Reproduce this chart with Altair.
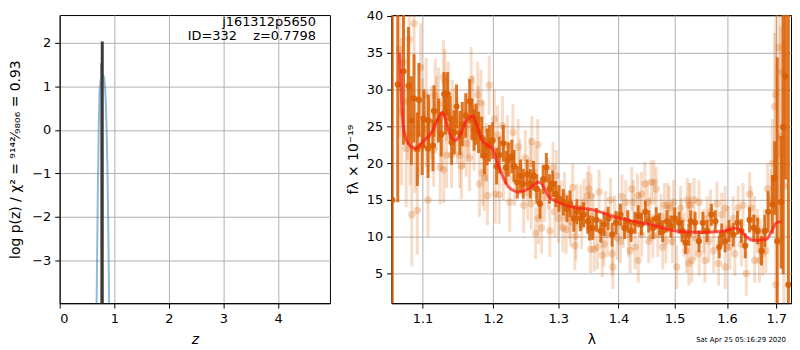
import altair as alt
import pandas as pd

# ---------------- data ----------------
# left panel: p(z) curve (blue) and the chi2 spikes (dark)
PZ_Z = [0.672, 0.685, 0.700, 0.715, 0.730, 0.750, 0.770, 0.795, 0.815, 0.830, 0.845, 0.860, 0.875, 0.890, 0.905, 0.915]
PZ_LOGP = [-4.5, -3.0, -1.3, 0.0, 0.9, 1.15, 1.23, 1.26, 1.2, 1.0, 0.65, 0.0, -0.85, -2.2, -3.9, -4.8]
SPIKE_Z = [0.752, 0.780]
SPIKE_TOP = [1.53, 2.03]
SPIKE_COLOR = ["#8c8c8c", "#3a3a3a"]
SPIKE_WIDTH = [1.2, 3.0]
INFO_TEXT = ["j161312p5650", "ID=332\u00a0\u00a0\u00a0\u00a0z=0.7798"]
DATE_TEXT = ["Sat Apr 25 05:16:29 2020"]

# right panel: combined spectrum points (lambda, flux, err)
DARK_POINTS = [
    (1.0597, 15.0, 30), (1.0669, 30.7, 16), (1.0745, 32.5, 10), (1.0811, 30.5, 8),
    (1.0850, 25.8, 6), (1.0885, 28.8, 6), (1.0929, 21.9, 5), (1.0951, 28.6, 5),
    (1.0995, 22.4, 4), (1.1017, 26.0, 4), (1.1074, 22.0, 4), (1.1080, 25.8, 3.5),
    (1.1141, 22.4, 3.5), (1.1156, 27.1, 3.5), (1.1218, 25.8, 3), (1.1255, 23.9, 3),
    (1.1295, 29.4, 3), (1.1315, 26.9, 3), (1.1344, 29.4, 3), (1.1380, 26.1, 3),
    (1.1400, 22.8, 3), (1.1437, 24.2, 3), (1.1470, 27.7, 3), (1.1517, 24.1, 3),
    (1.1550, 25.3, 3), (1.1600, 26.5, 3), (1.1657, 28.4, 3), (1.1690, 26.0, 2.8),
    (1.1720, 24.5, 2.8), (1.1750, 25.3, 2.8), (1.1785, 24.2, 2.8), (1.1830, 23.5, 2.8),
    (1.1870, 21.0, 2.5), (1.1910, 22.2, 2.5), (1.1944, 22.7, 2.5), (1.1990, 23.1, 2.5),
    (1.2049, 19.6, 2.5), (1.2090, 21.1, 2.5), (1.2150, 22.7, 2.5), (1.2190, 19.4, 2.3),
    (1.2225, 20.5, 2.3), (1.2276, 20.9, 2.3), (1.2310, 19.6, 2.2), (1.2360, 17.4, 2.2),
    (1.2410, 18.3, 2.2), (1.2450, 17.2, 2.0), (1.2510, 18.5, 2.0), (1.2560, 17.2, 2.0),
    (1.2610, 18.3, 2.0), (1.2660, 16.5, 2.0), (1.2710, 14.5, 2.0), (1.2760, 17.8, 2.0),
    (1.2810, 19.4, 2.0), (1.2860, 16.5, 2.0), (1.2910, 17.2, 1.8), (1.2960, 15.8, 1.8),
    (1.3010, 15.2, 1.8), (1.3080, 14.7, 1.8), (1.3140, 13.8, 1.8), (1.3190, 14.5, 1.8),
    (1.3250, 12.5, 1.8), (1.3300, 13.4, 1.7), (1.3360, 12.5, 1.7), (1.3410, 13.0, 1.7),
    (1.3480, 12.1, 1.7), (1.3510, 11.2, 1.7),
    (1.3560, 11.2, 1.6), (1.3625, 12.3, 1.6), (1.3697, 10.8, 1.6), (1.3752, 11.7, 1.6),
    (1.3823, 12.5, 1.6), (1.3890, 10.3, 1.6), (1.3957, 11.9, 1.6), (1.4031, 13.0, 1.5),
    (1.4104, 11.2, 1.5), (1.4159, 12.1, 1.5), (1.4218, 10.8, 1.5), (1.4286, 11.9, 1.5),
    (1.4343, 12.8, 1.5), (1.4401, 11.7, 1.5), (1.4470, 13.4, 1.5), (1.4530, 12.1, 1.5),
    (1.4605, 11.2, 1.5), (1.4664, 12.5, 1.5), (1.4724, 11.7, 1.5), (1.4782, 10.8, 1.5),
    (1.4859, 12.1, 1.5), (1.4930, 11.4, 1.5), (1.5003, 12.5, 1.5), (1.5083, 11.9, 1.5),
    (1.5142, 10.8, 1.5), (1.5203, 9.2, 1.5), (1.5265, 10.3, 1.5),
    (1.5302, 12.1, 1.5), (1.5382, 11.9, 1.5), (1.5456, 9.4, 1.5), (1.5530, 11.9, 1.5),
    (1.5611, 10.8, 1.5), (1.5694, 13.0, 1.5), (1.5770, 12.1, 1.5), (1.5847, 8.6, 1.5),
    (1.5896, 10.3, 1.5), (1.5961, 9.4, 1.5), (1.6038, 10.8, 1.5), (1.6122, 10.3, 1.6),
    (1.6206, 11.9, 1.6), (1.6284, 10.8, 1.6), (1.6362, 8.8, 1.7), (1.6449, 12.3, 1.7),
    (1.6535, 11.2, 1.8), (1.6614, 10.8, 1.8), (1.6694, 8.1, 2.0), (1.6761, 10.8, 2.2),
    (1.6830, 13.4, 2.8), (1.6918, 14.4, 4), (1.6965, 18.0, 5), (1.7019, 9.4, 25),
    (1.7100, 14.7, 9), (1.7143, 24.9, 20), (1.7192, 31.8, 14), (1.7254, 3.5, 40),
]

# right panel: individual exposure points (lambda, flux, err)
LIGHT_POINTS = [
    (1.0690, 35.5, 12), (1.0720, 27.0, 10), (1.0742, 33.7, 10), (1.0780, 22.0, 8),
    (1.0798, 28.4, 8), (1.0820, 36.8, 8), (1.0830, 24.0, 7), (1.0855, 13.0, 7),
    (1.0885, 39.0, 7), (1.0900, 22.0, 6), (1.0929, 13.6, 6), (1.0950, 24.0, 6),
    (1.0973, 33.0, 6), (1.1000, 26.5, 5), (1.1048, 29.3, 5), (1.1050, 24.5, 5),
    (1.1074, 15.0, 5), (1.1084, 23.8, 5), (1.1120, 25.5, 5), (1.1151, 21.8, 5),
    (1.1174, 29.2, 5), (1.1190, 26.8, 5), (1.1218, 28.0, 5), (1.1241, 19.4, 5),
    (1.1260, 24.0, 5), (1.1286, 31.7, 5), (1.1290, 19.1, 4.5), (1.1309, 31.0, 4.5),
    (1.1330, 27.5, 4.5), (1.1331, 21.1, 4.5), (1.1354, 29.3, 4.5), (1.1399, 21.1, 4.5),
    (1.1410, 26.8, 4.5), (1.1446, 25.8, 4.5), (1.1480, 24.5, 4.5), (1.1515, 21.1, 4.5),
    (1.1538, 19.6, 4.5), (1.1570, 23.8, 4.5), (1.1607, 22.7, 4.5), (1.1630, 25.2, 4.5),
    (1.1655, 20.7, 4.5), (1.1678, 31.3, 4.5), (1.1702, 27.5, 4.5), (1.1720, 23.5, 4.5),
    (1.1773, 29.3, 4.5), (1.1780, 26.0, 4.5), (1.1797, 17.2, 4.5), (1.1820, 28.2, 4.5),
    (1.1844, 18.7, 4.5), (1.1850, 24.5, 4), (1.1869, 18.0, 4.5), (1.1900, 21.5, 4),
    (1.1915, 15.6, 4), (1.1939, 30.6, 4),
    (1.2016, 26.0, 4), (1.2030, 15.8, 4), (1.2063, 23.8, 4), (1.2088, 15.7, 4),
    (1.2136, 25.1, 4), (1.2150, 19.0, 4), (1.2210, 22.5, 4), (1.2245, 14.7, 4),
    (1.2294, 24.2, 3.8), (1.2320, 18.0, 3.8), (1.2373, 22.2, 3.8), (1.2400, 19.5, 3.8),
    (1.2458, 14.3, 3.8), (1.2483, 20.7, 3.8), (1.2520, 16.0, 3.8), (1.2559, 20.0, 3.5),
    (1.2574, 14.5, 3.5), (1.2583, 22.9, 3.5), (1.2635, 18.7, 3.5), (1.2640, 10.5, 3.5),
    (1.2674, 22.5, 3.5), (1.2685, 12.5, 3.5), (1.2736, 11.2, 3.5), (1.2780, 15.5, 3.5),
    (1.2839, 17.2, 3.5), (1.2865, 10.8, 3.5), (1.2916, 19.4, 3.5), (1.2943, 13.4, 3.5),
    (1.2968, 18.3, 3.5), (1.3000, 12.5, 3.3), (1.3046, 14.3, 3.3), (1.3073, 11.2, 3.3),
    (1.3100, 15.5, 3.3), (1.3125, 11.0, 3.3), (1.3179, 13.0, 3.3), (1.3200, 12.0, 3.3),
    (1.3232, 16.7, 3.3), (1.3268, 8.8, 3.3), (1.3284, 10.1, 3.3), (1.3300, 13.9, 3.3),
    (1.3364, 13.9, 3.2), (1.3380, 11.5, 3.2), (1.3419, 14.7, 3.2), (1.3473, 15.6, 3.2),
    (1.3500, 16.5, 3.2), (1.3527, 8.3, 3.2),
    (1.3533, 15.6, 3), (1.3570, 12.8, 3), (1.3587, 8.3, 3), (1.3641, 8.6, 3),
    (1.3669, 16.1, 3), (1.3723, 7.5, 3), (1.3752, 9.0, 3), (1.3780, 13.2, 3),
    (1.3806, 10.3, 3), (1.3863, 15.0, 3), (1.3890, 7.7, 3), (1.3902, 5.9, 3),
    (1.3930, 12.6, 3), (1.3974, 9.9, 3), (1.4031, 9.4, 3), (1.4058, 15.5, 3),
    (1.4080, 11.5, 3), (1.4126, 14.7, 3), (1.4172, 10.3, 3), (1.4201, 8.1, 3),
    (1.4228, 16.5, 3), (1.4258, 14.7, 3), (1.4287, 8.6, 3), (1.4332, 15.6, 3),
    (1.4344, 6.8, 3), (1.4370, 13.0, 3), (1.4401, 15.8, 3), (1.4405, 10.3, 3),
    (1.4460, 17.2, 3), (1.4506, 14.7, 3), (1.4530, 9.4, 3), (1.4550, 12.4, 3),
    (1.4576, 17.4, 3), (1.4605, 10.1, 3), (1.4623, 17.4, 3), (1.4664, 16.5, 3),
    (1.4694, 10.3, 3), (1.4750, 12.8, 3), (1.4782, 8.6, 3), (1.4813, 14.3, 3),
    (1.4841, 9.4, 3), (1.4872, 14.3, 3), (1.4902, 13.9, 3), (1.4950, 11.8, 3),
    (1.4962, 9.4, 3), (1.4980, 14.7, 3), (1.5039, 5.9, 3), (1.5112, 13.9, 3),
    (1.5120, 12.2, 3), (1.5174, 10.3, 3), (1.5222, 8.1, 3), (1.5235, 15.0, 3),
    (1.5266, 6.4, 3), (1.5295, 14.3, 3),
    (1.5271, 14.3, 3), (1.5321, 6.8, 3), (1.5364, 15.0, 3), (1.5382, 9.9, 3),
    (1.5457, 14.7, 3), (1.5460, 7.7, 3), (1.5550, 10.8, 3), (1.5569, 6.8, 3),
    (1.5612, 12.5, 3), (1.5644, 9.4, 3), (1.5676, 13.4, 3), (1.5738, 8.1, 3),
    (1.5801, 14.5, 3), (1.5834, 6.4, 3), (1.5897, 13.0, 3), (1.5962, 13.9, 3),
    (1.5965, 5.9, 3), (1.6026, 11.2, 3), (1.6058, 8.6, 3), (1.6122, 12.5, 3),
    (1.6155, 7.7, 3), (1.6220, 13.9, 3), (1.6284, 9.0, 3), (1.6318, 14.3, 3),
    (1.6383, 5.0, 3), (1.6450, 15.8, 3), (1.6482, 13.9, 3), (1.6549, 12.5, 3),
    (1.6552, 6.8, 3), (1.6615, 10.8, 3), (1.6649, 6.8, 3), (1.6670, 9.4, 3),
    (1.6716, 7.7, 3), (1.6750, 10.8, 3), (1.6782, 8.1, 3), (1.6817, 16.5, 3.5),
    (1.6884, 15.2, 4), (1.6918, 20.0, 6), (1.6965, 27.7, 10), (1.6986, 29.3, 12),
    (1.6990, 3.5, 15), (1.7055, 35.7, 15), (1.7088, 23.6, 15), (1.7123, 32.4, 15),
    (1.7159, 16.9, 20),
]

# right panel: best-fit model (red)
MODEL_LAM = [1.0694, 1.0738, 1.0803, 1.0869, 1.0911, 1.0955, 1.1021, 1.1110, 1.1201, 1.1268,
             1.1313, 1.1382, 1.1450, 1.1519, 1.1613, 1.1706, 1.1754, 1.1825, 1.1919, 1.1991,
             1.2041, 1.2136, 1.2235, 1.2383, 1.2533, 1.2685, 1.2735, 1.2839, 1.2995, 1.3152,
             1.3312, 1.3473, 1.4024, 1.4600, 1.5015, 1.5507, 1.5948, 1.6175, 1.6273, 1.6402,
             1.6535, 1.6802, 1.6903, 1.7006, 1.7109]
MODEL_FLUX = [35.0, 25.3, 22.7, 22.1, 22.0, 22.4, 23.1, 24.0, 25.8, 26.9,
              26.0, 23.8, 23.1, 23.8, 25.8, 26.4, 25.3, 23.3, 22.4, 22.0,
              20.5, 18.3, 16.7, 16.1, 16.5, 17.4, 17.2, 15.6, 14.7, 14.2,
              13.9, 13.8, 12.5, 11.6, 10.8, 10.6, 10.8, 11.2, 10.8, 9.9,
              9.5, 9.7, 10.8, 11.9, 12.1]

LAM_TICKS = [1.1, 1.2, 1.3, 1.4, 1.5, 1.6, 1.7]
FLUX_TICKS = [5, 10, 15, 20, 25, 30, 35, 40]
Z_TICKS = [0, 1, 2, 3, 4]
LOGP_TICKS = [-3, -2, -1, 0, 1, 2]

# ---------------- build frames ----------------
FONT = "DejaVu Sans"
ORANGE = "#d95f02"

dark = pd.DataFrame(DARK_POINTS, columns=["lam", "flux", "err"])
dark["lo"] = dark["flux"] - dark["err"]
dark["hi"] = dark["flux"] + dark["err"]
light = pd.DataFrame(LIGHT_POINTS, columns=["lam", "flux", "err"])
light["lo"] = light["flux"] - light["err"]
light["hi"] = light["flux"] + light["err"]
model = pd.DataFrame({"lam": MODEL_LAM, "flux": MODEL_FLUX})
pz = pd.DataFrame({"z": PZ_Z, "logp": PZ_LOGP})
spikes = pd.DataFrame({"z": SPIKE_Z, "top": SPIKE_TOP, "bottom": [-5.0] * len(SPIKE_Z),
                       "c": SPIKE_COLOR, "w": SPIKE_WIDTH})

H = 290

# ---------------- left panel ----------------
zsc = alt.Scale(domain=[0, 4.95], nice=False, zero=False)
psc = alt.Scale(domain=[-3.98, 2.64], nice=False, zero=False)
zax = alt.Axis(values=Z_TICKS, format="d", title="z", titleFontStyle="italic", titlePadding=8)
pax = alt.Axis(values=LOGP_TICKS, format="d",
               title="log p(z) / χ² = ⁹¹⁴²⁄₉₈₀₆ = 0.93", titlePadding=9)

blue = alt.Chart(pz).mark_line(color="#1f77b4", opacity=0.5, strokeWidth=2, clip=True).encode(
    x=alt.X("z:Q", scale=zsc, axis=zax),
    y=alt.Y("logp:Q", scale=psc, axis=pax),
)
spk = alt.Chart(spikes).mark_rule(clip=True).encode(
    x=alt.X("z:Q", scale=zsc, axis=zax),
    y=alt.Y("bottom:Q", scale=psc, axis=pax),
    y2="top:Q",
    color=alt.Color("c:N", scale=None),
    strokeWidth=alt.StrokeWidth("w:Q", scale=None),
)
info1 = alt.Chart(pd.DataFrame({"t": [INFO_TEXT[0]]})).mark_text(
    align="right", baseline="alphabetic", font=FONT, fontSize=13, color="black").encode(
    x=alt.value(258), y=alt.value(11.5), text="t:N")
info2 = alt.Chart(pd.DataFrame({"t": [INFO_TEXT[1]]})).mark_text(
    align="right", baseline="alphabetic", font=FONT, fontSize=13, color="black").encode(
    x=alt.value(258), y=alt.value(25.5), text="t:N")

left = alt.layer(blue, spk, info1, info2).properties(width=272, height=H)

# ---------------- right panel ----------------
xs = alt.Scale(type="log", domain=[1.0588, 1.731], nice=False)
ys = alt.Scale(domain=[0.98, 40.13], nice=False, zero=False)
xax = alt.Axis(values=LAM_TICKS, format=".1f", title="λ", titlePadding=8)
yax = alt.Axis(values=FLUX_TICKS, format="d", title="fλ × 10⁻¹⁹", titlePadding=6)

lbars = alt.Chart(light).mark_rule(color=ORANGE, opacity=0.22, strokeWidth=3, clip=True).encode(
    x=alt.X("lam:Q", scale=xs, axis=xax), y=alt.Y("lo:Q", scale=ys, axis=yax), y2="hi:Q")
lpts = alt.Chart(light).mark_circle(color=ORANGE, opacity=0.25, size=55, clip=True).encode(
    x=alt.X("lam:Q", scale=xs, axis=xax), y=alt.Y("flux:Q", scale=ys, axis=yax))
dbars = alt.Chart(dark).mark_rule(color=ORANGE, opacity=0.85, strokeWidth=3, clip=True).encode(
    x=alt.X("lam:Q", scale=xs, axis=xax), y=alt.Y("lo:Q", scale=ys, axis=yax), y2="hi:Q")
dpts = alt.Chart(dark).mark_circle(color=ORANGE, opacity=0.9, size=40, clip=True).encode(
    x=alt.X("lam:Q", scale=xs, axis=xax), y=alt.Y("flux:Q", scale=ys, axis=yax))
red = alt.Chart(model).mark_line(color="#ff1a1a", opacity=0.7, strokeWidth=3, clip=True,
                                 interpolate="monotone").encode(
    x=alt.X("lam:Q", scale=xs, axis=xax), y=alt.Y("flux:Q", scale=ys, axis=yax))
date = alt.Chart(pd.DataFrame({"t": DATE_TEXT})).mark_text(
    align="right", baseline="alphabetic", font=FONT, fontSize=7, color="black").encode(
    x=alt.value(397), y=alt.value(329), text="t:N")

right = alt.layer(lbars, lpts, dbars, dpts, red, date).properties(width=402, height=H)

chart = alt.hconcat(left, right, spacing=14).properties(padding=0).configure(
    font=FONT
).configure_view(
    stroke="black", strokeWidth=1
).configure_axis(
    labelFont=FONT, labelFontSize=13, labelColor="black",
    titleFont=FONT, titleFontSize=14, titleFontWeight="normal", titleColor="black",
    tickColor="black", tickSize=5, labelPadding=4,
    domainColor="black", gridColor="#b0b0b0", gridWidth=1, gridOpacity=1,
)

chart.save("out.html", embed_options={"renderer": "svg", "actions": False})
